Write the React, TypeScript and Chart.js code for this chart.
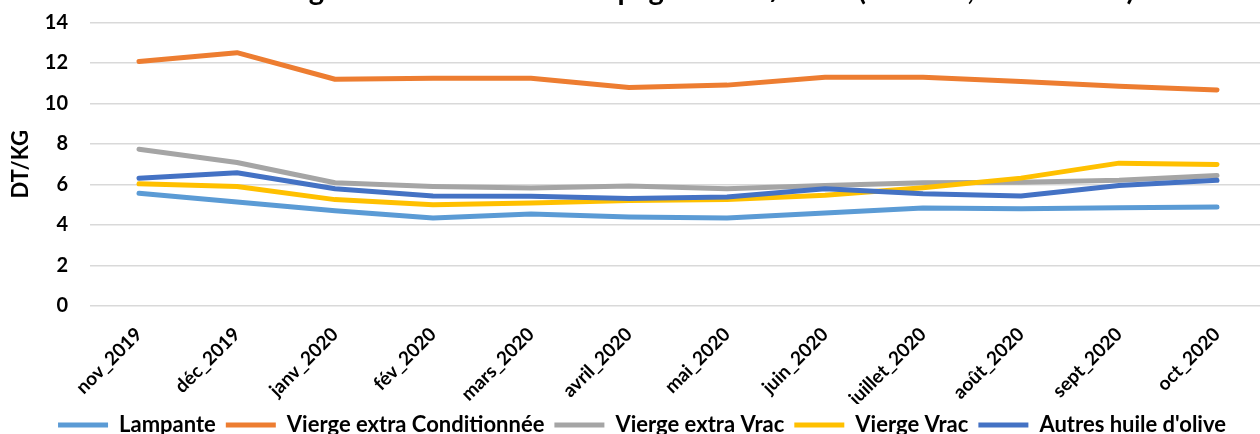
import React, { useEffect, useRef } from "react";
import { Chart, registerables } from "chart.js";
Chart.register(...registerables);

const categories = [
  "nov_2019", "déc_2019", "janv_2020", "fév_2020", "mars_2020", "avril_2020",
  "mai_2020", "juin_2020", "juillet_2020", "août_2020", "sept_2020", "oct_2020",
];
const lampante = [5.56, 5.13, 4.70, 4.34, 4.54, 4.39, 4.34, 4.59, 4.84, 4.80, 4.85, 4.89];
const viergeExtraConditionnee = [12.07, 12.5, 11.19, 11.24, 11.24, 10.78, 10.9, 11.29, 11.29, 11.08, 10.84, 10.66];
const viergeExtraVrac = [7.74, 7.08, 6.08, 5.9, 5.82, 5.92, 5.79, 5.95, 6.08, 6.11, 6.2, 6.44];
const viergeVrac = [6.03, 5.9, 5.25, 5.0, 5.08, 5.2, 5.25, 5.46, 5.84, 6.31, 7.05, 6.98];
const autresHuile = [6.30, 6.58, 5.79, 5.43, 5.41, 5.30, 5.38, 5.79, 5.54, 5.43, 5.95, 6.2];

const seriesNames = ["Lampante", "Vierge extra Conditionnée", "Vierge extra Vrac", "Vierge Vrac", "Autres huile d'olive"];
const seriesColors = ["#5B9BD5", "#ED7D31", "#A5A5A5", "#FFC000", "#4472C4"];
const titleText = "selon la catégorie au cours de la campagne 2019/2020 (Douane, 2019-2020)";
const yAxisTitle = "DT/KG";
const yMin = 0;
const yMax = 14;
const yStep = 2;

const CANVAS_W = 1270;
const CANVAS_H = 486;
const SHIFT = 40;
const PLOT_BOTTOM = 346;
const FONT = "Lato";

export default function App() {
  const ref = useRef<HTMLCanvasElement | null>(null);
  useEffect(() => {
    document.body.style.margin = "0";
    const values = [lampante, viergeExtraConditionnee, viergeExtraVrac, viergeVrac, autresHuile];
    const chart = new Chart(ref.current as HTMLCanvasElement, {
      type: "line",
      data: {
        labels: categories,
        datasets: values.map((v, i) => ({
          label: seriesNames[i],
          data: v,
          borderColor: seriesColors[i],
          backgroundColor: seriesColors[i],
          borderWidth: 5,
          pointRadius: 0,
          tension: 0,
          borderCapStyle: "round" as const,
          borderJoinStyle: "round" as const,
          order: values.length - i,
        })),
      },
      options: {
        responsive: false,
        animation: false,
        layout: { padding: { left: 18, right: 4, top: 0, bottom: 0 } },
        plugins: {
          tooltip: { enabled: false },
          title: {
            display: true,
            text: titleText,
            color: "#000",
            font: { family: FONT, size: 29, weight: "bold", lineHeight: 1.2 },
            padding: { top: 13, bottom: 14.5 },
          },
          legend: {
            position: "bottom",
            labels: {
              color: "#000",
              font: { family: FONT, size: 22, weight: "bold" },
              usePointStyle: true,
              pointStyle: "line",
              pointStyleWidth: 50,
              padding: 10,
              sort: (a: any, b: any) => a.datasetIndex - b.datasetIndex,
            },
          },
        },
        scales: {
          x: {
            offset: true,
            grid: { display: false },
            border: { display: false },
            ticks: {
              color: "#000",
              font: { family: FONT, size: 19, weight: "bold" },
              minRotation: 45,
              maxRotation: 45,
              autoSkip: false,
              padding: 9,
            },
            afterFit: (scale: any) => {
              const legendH = scale.chart.legend ? scale.chart.legend.height : 0;
              scale.height = scale.chart.height - legendH - PLOT_BOTTOM;
            },
          },
          y: {
            min: yMin,
            max: yMax,
            ticks: {
              stepSize: yStep,
              color: "#000",
              font: { family: FONT, size: 20, weight: "bold" },
              padding: 22,
            },
            grid: { color: "#d9d9d9", lineWidth: 1.5, drawTicks: false },
            border: { display: false },
            title: {
              display: true,
              text: yAxisTitle,
              color: "#000",
              font: { family: FONT, size: 22, weight: "bold", lineHeight: 0.3 },
              padding: { top: 0, bottom: 0 },
            },
            afterFit: (scale: any) => {
              scale.width = 72;
            },
          },
        },
      },
    });
    return () => chart.destroy();
  }, []);
  return (
    <div style={{ position: "fixed", left: 0, top: 0, width: 1260, height: 434, overflow: "hidden", background: "#fff" }}>
      <canvas
        ref={ref}
        width={CANVAS_W}
        height={CANVAS_H}
        style={{ position: "absolute", left: 0, top: -SHIFT, width: CANVAS_W, height: CANVAS_H, display: "block" }}
      />
    </div>
  );
}
